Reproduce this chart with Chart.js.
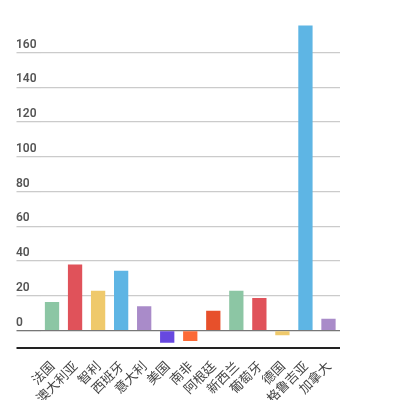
<!DOCTYPE html>
<html>
<head>
<meta charset="utf-8">
<script src="https://cdn.jsdelivr.net/npm/chart.js@4/dist/chart.umd.min.js"></script>
<style>
    html, body { margin: 0; padding: 0; background: #fff; }
    #wrap { width: 395px; height: 400px; }
</style>
</head>
<body>
<div id="wrap"><canvas id="bar-chart"></canvas></div>
<script>
    // Data
    var countries = ["法国", "澳大利亚", "智利", "西班牙", "意大利", "美国", "南非", "阿根廷", "新西兰", "葡萄牙", "德国", "格鲁吉亚", "加拿大"];
    var values = [16.5, 38, 23, 34.5, 14, -7, -6, 11.5, 23, 18.7, -2.7, 175.6, 6.8];
    var yTicks = [-10, 0, 20, 40, 60, 80, 100, 120, 140, 160];
    var palette = ["#8cc6a4", "#e0525a", "#efc96b", "#5eb5e4", "#a98bc9", "#6748e0", "#fc6a37", "#e7502b"];

    Chart.defaults.font.family = "Roboto, 'Noto Sans CJK SC', sans-serif";
    Chart.defaults.color = "#444";

    var barColors = countries.map(function (c, i) { return palette[i % palette.length]; });

    var ctx = document.getElementById("bar-chart").getContext("2d");
    var myChart = new Chart(ctx, {
        type: "bar",
        data: {
            labels: countries,
            datasets: [{
                data: values,
                backgroundColor: barColors,
                barPercentage: 0.62,
                categoryPercentage: 1
            }]
        },
        options: {
            responsive: true,
            maintainAspectRatio: false,
            animation: false,
            layout: { padding: { left: 16, right: 55, top: 23, bottom: 0 } },
            plugins: {
                legend: { display: false },
                tooltip: { enabled: false }
            },
            scales: {
                x: {
                    grid: { display: false },
                    border: { display: false },
                    ticks: {
                        maxRotation: 45,
                        minRotation: 45,
                        autoSkip: false,
                        padding: 2,
                        color: "#444",
                        font: { size: 13, family: "'Noto Sans CJK SC', sans-serif" }
                    },
                    afterFit: function (scale) { scale.height = 52; }
                },
                y: {
                    min: -10,
                    max: 177,
                    border: { display: false },
                    grid: {
                        drawTicks: true,
                        tickLength: 24,
                        color: function (c) {
                            if (c.tick.value === -10) return "#222";
                            if (c.tick.value === 0) return "#777";
                            return "#cbcbcb";
                        },
                        lineWidth: function (c) {
                            return c.tick.value === -10 ? 2 : 1.3;
                        }
                    },
                    ticks: {
                        crossAlign: "far",
                        labelOffset: -8,
                        color: "#555",
                        font: { size: 12, weight: "600", family: "Roboto, sans-serif" },
                        callback: function (v) { return v === -10 ? "" : v; }
                    },
                    afterBuildTicks: function (scale) {
                        scale.ticks = yTicks.map(function (v) { return { value: v }; });
                    },
                    afterFit: function (scale) { scale.width = 24.5; }
                }
            }
        }
    });
</script>
</body>
</html>
